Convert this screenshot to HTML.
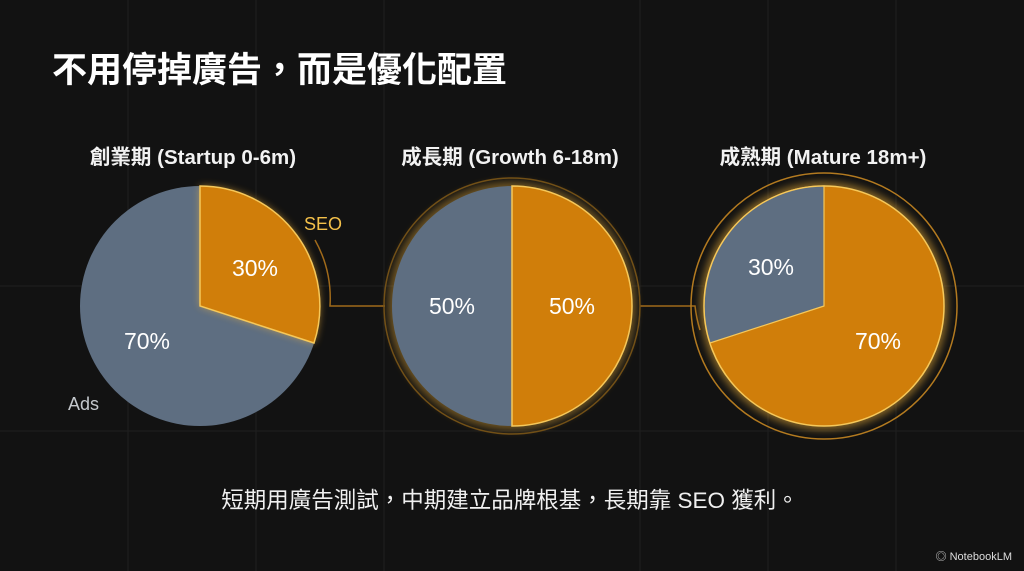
<!DOCTYPE html>
<html><head><meta charset="utf-8"><style>
body{margin:0;background:#111;}
svg{display:block}
text{font-family:"Liberation Sans","Noto Sans CJK TC",sans-serif;}
</style></head><body>
<svg width="1024" height="571" viewBox="0 0 1024 571" xmlns="http://www.w3.org/2000/svg">
<defs>
<filter id="glow" x="-30%" y="-30%" width="160%" height="160%"><feGaussianBlur stdDeviation="4"/></filter>
</defs>
<rect width="1024" height="571" fill="#121212"/>
<g stroke="#202020" stroke-width="1">
<line x1="128" y1="0" x2="128" y2="571"/><line x1="256" y1="0" x2="256" y2="571"/>
<line x1="384" y1="0" x2="384" y2="571"/><line x1="640" y1="0" x2="640" y2="571"/>
<line x1="768" y1="0" x2="768" y2="571"/><line x1="896" y1="0" x2="896" y2="571"/>
<line x1="0" y1="286" x2="1024" y2="286"/><line x1="0" y1="431" x2="1024" y2="431"/>
</g>
<text x="52" y="82" font-size="35" font-weight="bold" fill="#fff">不用停掉廣告，而是優化配置</text>
<g font-size="20.5" font-weight="bold" fill="#f2f2f2" text-anchor="middle">
<text x="193" y="164">創業期 (Startup 0-6m)</text>
<text x="510" y="164">成長期 (Growth 6-18m)</text>
<text x="823" y="164">成熟期 (Mature 18m+)</text>
</g>
<g fill="none" stroke="#a06a1a" stroke-width="1.5">
<path d="M315 240 A120 120 0 0 1 330 306 L385 306"/>
<path d="M640 306 L695 306 A130 130 0 0 0 700 330"/>
<circle cx="824" cy="306" r="133" stroke="#b37a20"/>
<circle cx="512" cy="306" r="128" stroke="#6a4a15"/>
</g>
<circle cx="200" cy="306" r="120" fill="#5e6e81"/>
<path d="M200 306 L200 186 A120 120 0 0 1 314 343 Z" fill="#f5b53a" filter="url(#glow)" opacity="0.6"/>
<path d="M200 306 L200 186 A120 120 0 0 1 314 343 Z" fill="#d07e0a" stroke="#f6c85a" stroke-width="1.5"/>
<circle cx="512" cy="306" r="124" fill="#f5b53a" filter="url(#glow)" opacity="0.4"/>
<path d="M512 186 A120 120 0 0 0 512 426 Z" fill="#5e6e81"/>
<path d="M512 186 A120 120 0 0 1 512 426 Z" fill="#d07e0a" stroke="#f6c85a" stroke-width="1.5"/>
<circle cx="824" cy="306" r="124" fill="#f5b53a" filter="url(#glow)" opacity="0.5"/>
<circle cx="824" cy="306" r="120" fill="#d07e0a" stroke="#f6c85a" stroke-width="1.5"/>
<path d="M824 306 L710 343 A120 120 0 0 1 824 186 Z" fill="#5e6e81" stroke="#f6c85a" stroke-width="1.2"/>
<g font-size="23" fill="#fff" text-anchor="middle">
<text x="255" y="276">30%</text><text x="147" y="349">70%</text>
<text x="452" y="314">50%</text><text x="572" y="314">50%</text>
<text x="771" y="275">30%</text><text x="878" y="349">70%</text>
</g>
<text x="304" y="230" font-size="18" fill="#f3c04a">SEO</text>
<text x="68" y="410" font-size="18" fill="#c4c8cc">Ads</text>
<text x="510" y="508" font-size="22.5" fill="#f0f0f0" text-anchor="middle">短期用廣告測試，中期建立品牌根基，長期靠 SEO 獲利。</text>
<text x="1012" y="560" font-size="11" fill="#ddd" text-anchor="end">◎ NotebookLM</text>
</svg>
</body></html>
